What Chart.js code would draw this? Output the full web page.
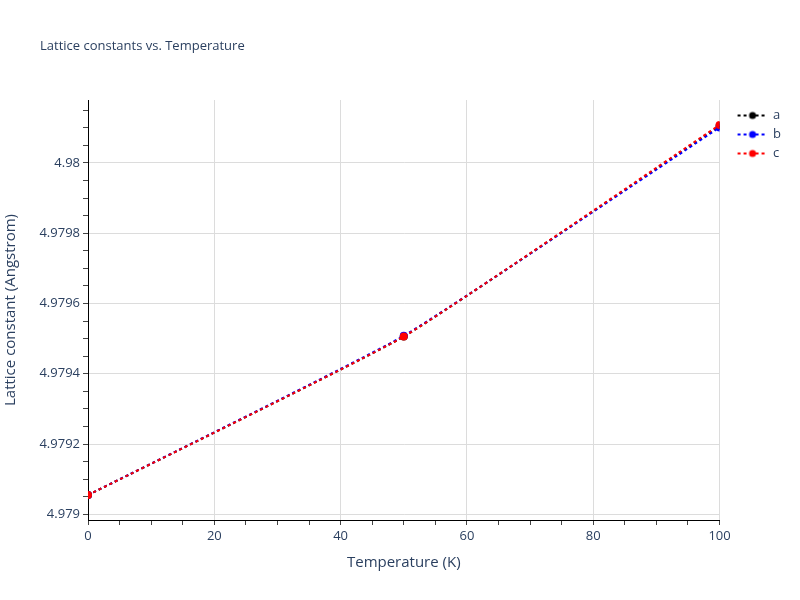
<!DOCTYPE html>
<html>
<head>
<meta charset="utf-8">
<script src="https://cdn.jsdelivr.net/npm/chart.js@4"></script>
<style>
  html, body { margin: 0; padding: 0; background: #fff; }
  #wrap { width: 800px; height: 600px; }
</style>
</head>
<body>
<div id="wrap"><canvas id="chart"></canvas></div>
<script>
// data
const temperatures = [0, 50, 100];
const latticeA = [4.979055, 4.979506, 4.980105];
const latticeB = [4.979055, 4.979508, 4.980101];
const latticeC = [4.979055, 4.979506, 4.980108];
const seriesNames = ['a', 'b', 'c'];
const seriesColors = ['#000000', '#0000ff', '#ff0000'];
const yTickLabels = [4.979, 4.9792, 4.9794, 4.9796, 4.9798, 4.98];
const xTickLabels = [0, 20, 40, 60, 80, 100];

const textColor = '#2a3f5f';
const gridColor = '#dcdcdc';
const fontFamily = '"Open Sans", verdana, arial, sans-serif';

function isMajorY(v) {
    return yTickLabels.some(t => Math.abs(t - v) < 1e-9);
}

function makeSwatch(color) {
    const c = document.createElement('canvas');
    c.width = 41;
    c.height = 10;
    const g = c.getContext('2d');
    g.strokeStyle = color;
    g.lineWidth = 2;
    g.setLineDash([3, 3]);
    g.beginPath();
    g.moveTo(12, 5);
    g.lineTo(41, 5);
    g.stroke();
    g.setLineDash([]);
    g.fillStyle = color;
    g.beginPath();
    g.arc(27, 5, 3.5, 0, Math.PI * 2);
    g.fill();
    return c;
}

const titlePlugin = {
    id: 'plotTitle',
    afterDraw(chart) {
        const ctx = chart.ctx;
        ctx.save();
        ctx.font = '13px ' + fontFamily;
        ctx.fillStyle = textColor;
        ctx.textBaseline = 'middle';
        ctx.fillText('Lattice constants vs. Temperature', 40, 46);
        ctx.restore();
    }
};

function makeDataset(i, values) {
    return {
        label: seriesNames[i],
        data: values,
        order: seriesNames.length - i,   // last series on top, like the reference
        borderColor: seriesColors[i],
        backgroundColor: seriesColors[i],
        borderWidth: 2,
        borderDash: [3, 3],
        pointRadius: 4,
        pointBorderWidth: 0,
        pointBackgroundColor: seriesColors[i],
        tension: 0.12,
        fill: false
    };
}

const ctx = document.getElementById('chart');
new Chart(ctx, {
    type: 'line',
    data: {
        labels: temperatures,
        datasets: [
            makeDataset(0, latticeA),
            makeDataset(1, latticeB),
            makeDataset(2, latticeC)
        ]
    },
    plugins: [titlePlugin],
    options: {
        responsive: true,
        maintainAspectRatio: false,
        animation: false,
        layout: {
            padding: { top: 100, left: 0, right: 9, bottom: 0 }
        },
        plugins: {
            tooltip: { enabled: false },
            title: { display: false },
            legend: {
                position: 'right',
                align: 'start',
                title: {
                    display: true,
                    text: '',
                    font: { size: 1, lineHeight: 1 },
                    padding: { top: 2, bottom: 0 }
                },
                labels: {
                    usePointStyle: true,
                    pointStyleWidth: 41,
                    boxHeight: 10,
                    padding: 6,
                    color: textColor,
                    font: { family: fontFamily, size: 13 },
                    sort: function (a, b) { return a.datasetIndex - b.datasetIndex; },
                    generateLabels: function (chart) {
                        return Chart.defaults.plugins.legend.labels.generateLabels(chart).map(function (l) {
                            l.pointStyle = makeSwatch(seriesColors[l.datasetIndex]);
                            return l;
                        });
                    }
                }
            }
        },
        scales: {
            x: {
                type: 'linear',
                min: 0,
                max: 100,
                afterFit: function (scale) { scale.height = 80; },
                afterBuildTicks: function (scale) {
                    const t = [];
                    for (let v = 0; v <= 100; v += 5) t.push({ value: v });
                    scale.ticks = t;
                },
                ticks: {
                    autoSkip: false,
                    maxRotation: 0,
                    padding: 3,
                    color: textColor,
                    font: { family: fontFamily, size: 13 },
                    callback: function (v) { return xTickLabels.includes(v) ? String(v) : ''; }
                },
                grid: {
                    color: function (c) { return c.tick && xTickLabels.includes(c.tick.value) ? gridColor : 'rgba(0,0,0,0)'; },
                    tickColor: '#444',
                    tickLength: 5
                },
                border: { color: '#000', width: 1 },
                title: {
                    display: true,
                    text: 'Temperature (K)',
                    color: textColor,
                    font: { family: fontFamily, size: 15 },
                    padding: { top: 0, bottom: 28 }
                }
            },
            y: {
                type: 'linear',
                min: 4.978984,
                max: 4.980179,
                afterFit: function (scale) { scale.width = 88; },
                afterBuildTicks: function (scale) {
                    const step = 0.00005;
                    const t = [];
                    for (let k = Math.ceil(scale.min / step - 1e-6); k * step <= scale.max + 1e-12; k++) {
                        t.push({ value: +(k * step).toFixed(6) });
                    }
                    scale.ticks = t;
                },
                ticks: {
                    autoSkip: false,
                    padding: 3,
                    color: textColor,
                    font: { family: fontFamily, size: 13 },
                    callback: function (v) { return isMajorY(v) ? String(+v.toFixed(6)) : ''; }
                },
                grid: {
                    color: function (c) { return c.tick && isMajorY(c.tick.value) ? gridColor : 'rgba(0,0,0,0)'; },
                    tickColor: '#444',
                    tickLength: 5
                },
                border: { color: '#000', width: 1 },
                title: {
                    display: true,
                    text: 'Lattice constant (Angstrom)',
                    color: textColor,
                    font: { family: fontFamily, size: 15 },
                    padding: { top: 2, bottom: 0 }
                }
            }
        }
    }
});
</script>
</body>
</html>
